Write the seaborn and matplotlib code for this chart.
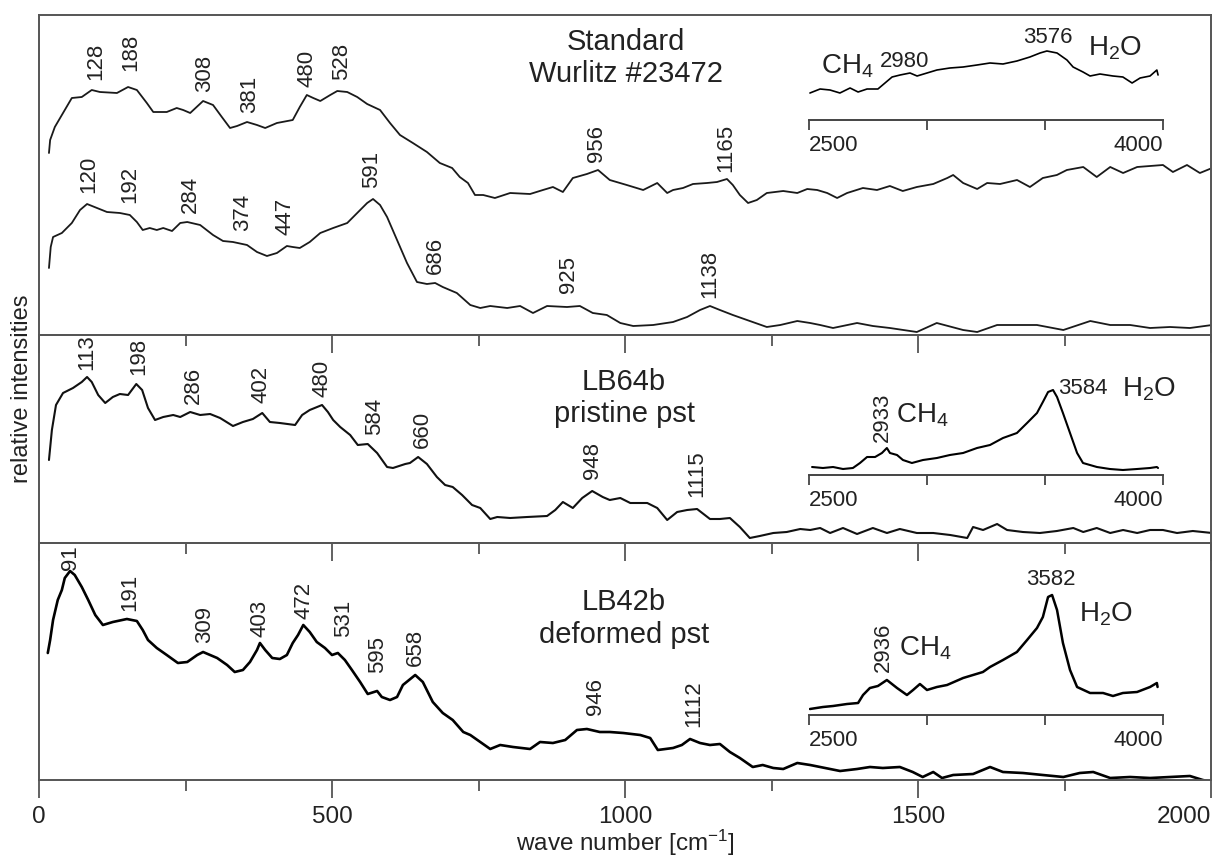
import matplotlib
matplotlib.use('Agg')
import matplotlib.pyplot as plt
import seaborn as sns

# ---- spectra (wave number in cm-1, relative intensity in arbitrary units) ----
std_x = [17, 19, 27, 39, 56, 73, 90, 104, 133, 152, 167, 184, 195, 218, 235, 246, 258, 280, 297, 312,
         326, 338, 355, 372, 386, 406, 433, 445, 457, 468, 480, 497, 509, 526, 543, 560, 582, 599, 616, 638,
         662, 684, 705, 718, 732, 744, 758, 778, 804, 838, 860, 877, 894, 911, 935, 954, 974, 1003, 1031, 1055,
         1072, 1082, 1099, 1116, 1140, 1157, 1174, 1184, 1196, 1210, 1225, 1242, 1270, 1294, 1311, 1328, 1345,
         1362, 1379, 1406, 1430, 1452, 1474, 1498, 1526, 1550, 1560, 1577, 1601, 1618, 1640, 1669, 1691, 1713,
         1737, 1754, 1782, 1805, 1828, 1850, 1874, 1896, 1918, 1935, 1959, 1981, 2002]
std_y = [182, 195, 208, 220, 237, 238, 245, 243, 242, 248, 245, 232, 223, 223, 227, 225, 222, 234, 230, 218,
         207, 209, 213, 210, 207, 212, 215, 228, 240, 237, 234, 240, 244, 243, 238, 231, 225, 212, 200, 192,
         183, 172, 167, 158, 152, 140, 140, 137, 142, 141, 145, 148, 143, 157, 161, 165, 155, 150, 145, 152,
         142, 145, 147, 151, 152, 153, 156, 150, 140, 132, 135, 142, 144, 142, 146, 145, 142,
         137, 142, 147, 145, 149, 144, 148, 151, 157, 160, 152, 146, 152, 151, 155, 148, 157,
         160, 165, 168, 158, 168, 162, 168, 169, 170, 163, 170, 162, 167]

ref_x = [17, 20, 24, 39, 56, 70, 82, 99, 116, 138, 155, 167, 177, 189, 201, 212, 227, 241, 253, 275,
         297, 314, 331, 355, 372, 389, 406, 423, 433, 445, 462, 480, 502, 526, 543, 560, 570, 582, 594, 611,
         628, 645, 662, 676, 689, 713, 736, 753, 770, 799, 821, 843, 867, 901, 923, 945, 969, 992, 1014, 1048,
         1082, 1106, 1128, 1145, 1162, 1184, 1213, 1242, 1265, 1294, 1316, 1333, 1355, 1396, 1423, 1452, 1498,
         1532, 1577, 1601, 1635, 1669, 1703, 1748, 1794, 1828, 1862, 1896, 1930, 1964, 2002]
ref_y = [67, 88, 98, 102, 112, 125, 131, 127, 123, 122, 120, 113, 105, 107, 105, 107, 104, 112, 113, 110,
         100, 94, 93, 90, 83, 79, 82, 89, 88, 87, 93, 102, 107, 112, 122, 132, 136, 130, 118, 95,
         72, 53, 51, 52, 48, 42, 30, 27, 29, 27, 29, 22, 29, 28, 29, 22, 20, 12, 9, 10,
         13, 18, 25, 29, 25, 20, 14, 8, 10, 14, 12, 10, 7, 12, 9, 7, 3,
         12, 5, 3, 10, 10, 10, 5, 14, 10, 10, 7, 8, 7, 10]

lb64_x = [17, 22, 29, 41, 58, 73, 82, 90, 101, 113, 126, 138, 152, 166, 176, 186, 198, 212, 229, 241,
          258, 275, 292, 309, 331, 348, 365, 381, 394, 411, 437, 449, 462, 483, 493, 502, 514, 531, 544, 561,
          577, 594, 604, 625, 633, 647, 662, 679, 693, 706, 722, 739, 753, 770, 782, 804, 833, 867, 881, 894,
          911, 927, 944, 962, 974, 992, 1009, 1038, 1055, 1072, 1089, 1106, 1123, 1145, 1162, 1179, 1196, 1213,
          1230, 1253, 1276, 1299, 1316, 1333, 1350, 1372, 1396, 1423, 1447, 1469, 1498, 1526, 1555, 1584, 1594,
          1611, 1635, 1652, 1679, 1708, 1737, 1765, 1782, 1805, 1828, 1850, 1874, 1896, 1918, 1942, 1969, 2002]
lb64_y = [83, 113, 138, 150, 155, 161, 166, 161, 148, 140, 146, 149, 148, 159, 153, 135, 123, 126, 128, 126,
          131, 128, 129, 125, 117, 121, 124, 130, 121, 120, 118, 128, 133, 138, 131, 123, 116, 108, 98, 99,
          90, 76, 75, 79, 80, 86, 79, 66, 58, 56, 48, 38, 35, 24, 26, 25, 26, 27, 33, 41,
          35, 45, 52, 46, 43, 45, 40, 40, 35, 23, 31, 33, 34, 24, 24, 25, 16, 5,
          7, 10, 11, 14, 13, 15, 10, 15, 9, 15, 10, 14, 10, 10, 8, 5, 16,
          13, 19, 13, 11, 10, 12, 15, 11, 15, 10, 13, 10, 13, 13, 10, 12, 10]

lb42_x = [15, 19, 24, 32, 39, 44, 53, 61, 73, 84, 96, 109, 126, 150, 167, 177, 186, 201, 218, 237,
          253, 270, 280, 304, 321, 334, 348, 360, 372, 377, 386, 398, 411, 423, 433, 442, 451, 462, 474, 488,
          500, 510, 522, 534, 548, 561, 577, 585, 599, 611, 621, 642, 655, 672, 689, 706, 724, 736, 753, 770,
          787, 809, 838, 855, 877, 898, 918, 935, 957, 974, 997, 1026, 1043, 1056, 1082, 1097, 1111, 1128, 1145,
          1162, 1179, 1196, 1218, 1235, 1253, 1270, 1294, 1316, 1333, 1367, 1396, 1418, 1440, 1469, 1491, 1508,
          1526, 1541, 1560, 1594, 1623, 1645, 1679, 1713, 1748, 1776, 1799, 1828, 1862, 1896, 1930, 1964, 1986, 2002]
lb42_y = [127, 140, 160, 180, 190, 202, 209, 205, 193, 180, 165, 155, 158, 161, 159, 150, 140, 132, 125, 117,
          118, 125, 128, 122, 115, 108, 110, 118, 130, 137, 130, 122, 121, 125, 137, 145, 155, 148, 138, 132,
          125, 127, 120, 110, 98, 86, 89, 83, 80, 83, 95, 105, 98, 78, 67, 60, 48, 45, 38, 31,
          35, 33, 31, 38, 37, 40, 50, 51, 48, 48, 47, 45, 42, 30, 32, 35, 41, 37, 35,
          36, 28, 22, 13, 15, 12, 11, 17, 15, 13, 9, 11, 13, 12, 13, 8, 3,
          8, 2, 5, 6, 13, 8, 7, 5, 3, 7, 8, 2, 3, 2, 3, 4, 0, -2]

# ---- high wave number insets (2500-4000 cm-1) ----
std_hi_x = [2504, 2547, 2589, 2631, 2674, 2708, 2746, 2792, 2822, 2852, 2886, 2928, 2958, 3000, 3042, 3097,
            3153, 3212, 3267, 3322, 3381, 3436, 3479, 3508, 3551, 3593, 3619, 3661, 3691, 3733, 3788, 3830,
            3869, 3903, 3945, 3974, 3979]
std_hi_y = [27, 31, 30, 27, 32, 28, 31, 31, 37, 43, 45, 47, 44, 47, 50, 52,
            53, 55, 57, 56, 59, 63, 67, 69, 67, 60, 53, 48, 44, 46, 44, 43,
            37, 42, 44, 50, 45]

lb64_hi_x = [2513, 2559, 2602, 2644, 2686, 2716, 2746, 2780, 2809, 2830, 2843, 2873, 2898, 2936, 2983, 3042,
             3097, 3153, 3212, 3267, 3322, 3381, 3424, 3466, 3491, 3513, 3534, 3551, 3576, 3606, 3636, 3661,
             3720, 3775, 3830, 3890, 3945, 3974, 3979]
lb64_hi_y = [8, 7, 8, 6, 7, 12, 18, 18, 22, 27, 22, 20, 15, 12, 15, 17,
             20, 22, 27, 30, 37, 42, 52, 62, 73, 83, 85, 78, 62, 42, 22, 12,
             8, 6, 5, 6, 7, 8, 7]

lb42_hi_x = [2504, 2559, 2602, 2661, 2708, 2729, 2758, 2792, 2830, 2873, 2915, 2941, 2970, 3000, 3042, 3085,
             3153, 3237, 3267, 3322, 3381, 3424, 3466, 3491, 3513, 3530, 3551, 3576, 3606, 3636, 3691, 3746,
             3788, 3830, 3890, 3945, 3974, 3977]
lb42_hi_y = [6, 8, 9, 11, 12, 20, 27, 29, 35, 27, 20, 25, 31, 25, 28, 30,
             37, 43, 48, 55, 63, 75, 87, 98, 118, 120, 105, 72, 45, 28, 22, 22,
             19, 22, 23, 28, 32, 28]

# ---- peak labels ----
std_pk = ['128', '188', '308', '381', '480', '528', '956', '1165']
std_pk_x = [97, 157, 282, 360, 457, 517, 952, 1172]
std_pk_y = [255, 264, 243, 222, 248, 255, 173, 163]
ref_pk = ['120', '192', '284', '374', '447', '591', '686', '925', '1138']
ref_pk_x = [85, 155, 259, 347, 420, 568, 677, 903, 1145]
ref_pk_y = [142, 132, 122, 104, 100, 147, 61, 42, 37]
lb64_pk = ['113', '198', '286', '402', '480', '584', '660', '948', '1115']
lb64_pk_x = [82, 171, 264, 379, 483, 572, 655, 945, 1123]
lb64_pk_y = [173, 168, 139, 140, 146, 108, 95, 64, 46]
lb42_pk = ['91', '191', '309', '403', '472', '531', '595', '658', '946', '1112']
lb42_pk_x = [53, 155, 282, 377, 452, 519, 577, 643, 949, 1118]
lb42_pk_y = [210, 169, 137, 143, 161, 143, 107, 114, 65, 53]

sns.set_style('white')
plt.rcParams['font.family'] = ['Liberation Sans', 'DejaVu Sans']
plt.rcParams['mathtext.default'] = 'regular'
plt.rcParams['text.color'] = '#222222'

W, H = 1213, 859
fig = plt.figure(figsize=(W / 100, H / 100), dpi=100)
fig.patch.set_facecolor('white')

FRAME = '#555555'


def fbox(left, top, right, bottom):
    return [left / W, 1 - bottom / H, (right - left) / W, (bottom - top) / H]


# three stacked panels (pixel rows of the reference)
rows = [(15, 335), (335, 543), (543, 780)]
axes = []
for i, (top, bot) in enumerate(rows):
    ax = fig.add_axes(fbox(39, top, 1211, bot))
    ax.patch.set_visible(False)
    ax.set_xlim(0, 2000)
    ax.set_ylim(0, bot - top)
    ax.set_yticks([])
    ax.set_xticks([0, 500, 1000, 1500, 2000])
    ax.set_xticks([250, 750, 1250, 1750], minor=True)
    ax.tick_params(axis='x', which='major', direction='out', length=13, width=1.3,
                   color=FRAME, labelsize=17.5, labelcolor='#222222', pad=6,
                   labelbottom=(i == 2), bottom=True)
    ax.tick_params(axis='x', which='minor', direction='out', length=8, width=1.3,
                   color=FRAME, bottom=True)
    for s in ax.spines.values():
        s.set_color(FRAME)
        s.set_linewidth(1.4)
    axes.append(ax)

ax1, ax2, ax3 = axes
ax3.get_xticklabels()[-1].set_horizontalalignment('right')

sns.lineplot(x=std_x, y=std_y, ax=ax1, color='#1a1a1a', lw=1.3, estimator=None, sort=False)
sns.lineplot(x=ref_x, y=ref_y, ax=ax1, color='#1a1a1a', lw=1.3, estimator=None, sort=False)
sns.lineplot(x=lb64_x, y=lb64_y, ax=ax2, color='#111111', lw=1.5, estimator=None, sort=False)
sns.lineplot(x=lb42_x, y=lb42_y, ax=ax3, color='#000000', lw=1.9, estimator=None, sort=False)

for ax, labs, xs, ys in [(ax1, std_pk, std_pk_x, std_pk_y), (ax1, ref_pk, ref_pk_x, ref_pk_y),
                         (ax2, lb64_pk, lb64_pk_x, lb64_pk_y), (ax3, lb42_pk, lb42_pk_x, lb42_pk_y)]:
    for t, x, y in zip(labs, xs, ys):
        ax.text(x, y, t, rotation=90, ha='center', va='bottom', fontsize=16)

# sample names
fig.text(626 / W, 1 - 50 / H, 'Standard', ha='center', va='baseline', fontsize=21)
fig.text(626 / W, 1 - 82 / H, 'Wurlitz #23472', ha='center', va='baseline', fontsize=21)
fig.text(624 / W, 1 - 390 / H, 'LB64b', ha='center', va='baseline', fontsize=21)
fig.text(624 / W, 1 - 422 / H, 'pristine pst', ha='center', va='baseline', fontsize=21)
fig.text(624 / W, 1 - 610 / H, 'LB42b', ha='center', va='baseline', fontsize=21)
fig.text(624 / W, 1 - 643 / H, 'deformed pst', ha='center', va='baseline', fontsize=21)

# insets with their own scale bar
insets = [
    (120, 80, std_hi_x, std_hi_y, 1.2,
     [('CH$_4$', 2551, 47, 'left', 0), ('2980', 2800, 53, 'left', 0),
      ('3576', 3407, 77, 'left', 0), ('H$_2$O', 3682, 65, 'left', 0)]),
    (475, 90, lb64_hi_x, lb64_hi_y, 1.5,
     [('2933', 2809, 33, 'center', 90), ('CH$_4$', 2869, 52, 'left', 0),
      ('3584', 3555, 81, 'left', 0), ('H$_2$O', 3826, 78, 'left', 0)]),
    (715, 125, lb42_hi_x, lb42_hi_y, 1.8,
     [('2936', 2814, 43, 'center', 90), ('CH$_4$', 2881, 59, 'left', 0),
      ('3582', 3525, 130, 'center', 0), ('H$_2$O', 3644, 94, 'left', 0)]),
]
for bar_y, h, xs, ys, lw, notes in insets:
    ia = fig.add_axes(fbox(809, bar_y - h, 1163, bar_y))
    ia.patch.set_visible(False)
    ia.set_xlim(2500, 4000)
    ia.set_ylim(0, h)
    ia.set_yticks([])
    for side in ['left', 'right', 'top']:
        ia.spines[side].set_visible(False)
    ia.spines['bottom'].set_color('#444444')
    ia.spines['bottom'].set_linewidth(1.4)
    ia.set_xticks([2500, 3000, 3500, 4000])
    ia.set_xticklabels(['2500', '', '', '4000'])
    ia.tick_params(axis='x', direction='out', length=7.5, width=1.3, color='#444444',
                   labelsize=16, labelcolor='#222222', pad=3, bottom=True)
    lbls = ia.get_xticklabels()
    lbls[0].set_horizontalalignment('left')
    lbls[-1].set_horizontalalignment('right')
    sns.lineplot(x=xs, y=ys, ax=ia, color='#000000', lw=lw, estimator=None, sort=False)
    for t, x, y, ha, rot in notes:
        if rot:
            ia.text(x, y, t, rotation=90, ha='center', va='bottom', fontsize=16)
        elif t[0].isdigit():
            ia.text(x, y, t, ha=ha, va='baseline', fontsize=16)
        else:
            ia.text(x, y, t, ha=ha, va='baseline', fontsize=20)

fig.text(625 / W, 1 - 851 / H, 'wave number [cm$^{-1}$]', ha='center', va='baseline', fontsize=17.5)
fig.text(22 / W, 1 - 389 / H, 'relative intensities', rotation=90, ha='center', va='center', fontsize=17)

fig.savefig('out.png', dpi=100, facecolor='white')
